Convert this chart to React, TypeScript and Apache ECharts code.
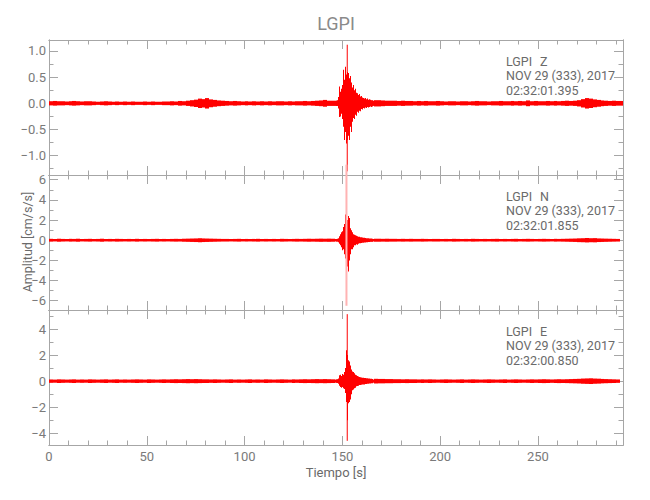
import React, { useEffect, useRef } from "react";
import * as echarts from "echarts";

// ---------- axis ticks ----------
const X_MAX = 293.5;
const X_MAJOR = [0, 50, 100, 150, 200, 250];
const X_MINOR = [10, 20, 30, 40, 60, 70, 80, 90, 110, 120, 130, 140, 160, 170, 180, 190, 210, 220, 230, 240, 260, 270, 280, 290];

const Z_RANGE = [-1.37, 1.21];
const Z_MAJOR = [-1.0, -0.5, 0.0, 0.5, 1.0];
const Z_MINOR = [-1.25, -0.75, -0.25, 0.25, 0.75];
const N_RANGE = [-6.92, 6.47];
const N_MAJOR = [-6, -4, -2, 0, 2, 4, 6];
const N_MINOR = [-5, -3, -1, 1, 3, 5];
const E_RANGE = [-4.9, 5.46];
const E_MAJOR = [-4, -2, 0, 2, 4];
const E_MINOR = [-3, -1, 1, 3, 5];

// ---------- texts ----------
const TITLE = "LGPI";
const STATION = "LGPI";
const COMPONENTS = ["Z", "N", "E"];
const DATE_TEXT = "NOV 29 (333), 2017";
const START_TIMES = ["02:32:01.395", "02:32:01.855", "02:32:00.850"];
const Y_NAME = "Amplitud [cm/s/s]";
const X_NAME = "Tiempo [s]";

// ---------- waveform envelopes ----------
// half-amplitude of the trace in consecutive 2-s bins (starting at 0 s)
const BIN = 2;
const zCoarse = [
  0.04, 0.045, 0.04, 0.04, 0.035, 0.04, 0.045, 0.04, 0.035, 0.04, 0.04, 0.035, 0.03, 0.035, 0.04, 0.035, 0.03, 0.035, 0.03, 0.035,
  0.03, 0.035, 0.03, 0.03, 0.035, 0.03, 0.035, 0.03, 0.03, 0.035,
  0.035, 0.04, 0.035, 0.045, 0.04, 0.05,
  0.06, 0.07, 0.09, 0.08, 0.1, 0.075, 0.065, 0.055, 0.05,
  0.045, 0.04, 0.045, 0.04, 0.035, 0.04, 0.035, 0.04, 0.035, 0.04,
  0.035, 0.04, 0.035, 0.04, 0.04, 0.035, 0.04, 0.035, 0.04, 0.04, 0.045, 0.04, 0.045,
  0.05, 0.055, 0.065, 0.05, 0.05,
  0.05, 0.05, 0.05, 0.05, 0.05, 0.05, 0.05, 0.05, 0.05, 0.05,
  0.06, 0.06, 0.055, 0.05, 0.05, 0.05, 0.045, 0.05, 0.045, 0.045, 0.04, 0.045, 0.04, 0.045, 0.04, 0.04, 0.045,
  0.04, 0.035, 0.04, 0.04, 0.035, 0.04, 0.04, 0.035, 0.04, 0.045, 0.04, 0.04, 0.035, 0.04, 0.04, 0.045, 0.04, 0.04, 0.045, 0.04, 0.045, 0.04,
  0.055,
  0.04, 0.045, 0.04, 0.04, 0.045, 0.04, 0.045, 0.04, 0.045, 0.05, 0.045,
  0.05, 0.06, 0.08, 0.1, 0.09, 0.075, 0.065, 0.055,
  0.05, 0.045, 0.05, 0.045, 0.045,
];
const nCoarse = [
  0.14, 0.12, 0.15, 0.13, 0.12, 0.14, 0.13, 0.15, 0.12, 0.13, 0.14, 0.12, 0.13, 0.15, 0.12, 0.13, 0.12, 0.14, 0.13, 0.12,
  0.13, 0.12, 0.14, 0.12, 0.13, 0.12, 0.13, 0.14, 0.12, 0.13, 0.12, 0.13, 0.14, 0.13, 0.15, 0.16,
  0.17, 0.18, 0.2, 0.18, 0.17, 0.16, 0.15, 0.14, 0.13,
  0.13, 0.12, 0.13, 0.14, 0.12, 0.13, 0.12, 0.13, 0.14, 0.12, 0.13, 0.12, 0.13, 0.12, 0.14, 0.13, 0.12, 0.13, 0.14, 0.13,
  0.14, 0.15, 0.14, 0.15, 0.16, 0.15, 0.16, 0.15,
  0.12, 0.12, 0.12, 0.12, 0.12, 0.12, 0.12, 0.12, 0.12, 0.12,
  0.15, 0.15, 0.14, 0.15, 0.14, 0.14, 0.13, 0.14, 0.13, 0.14, 0.13, 0.13, 0.14, 0.13, 0.12, 0.13, 0.13,
  0.12, 0.13, 0.12, 0.14, 0.13, 0.12, 0.13, 0.12, 0.14, 0.13, 0.12, 0.13, 0.12, 0.13, 0.14, 0.12, 0.13, 0.12, 0.13, 0.14,
  0.12, 0.13, 0.14, 0.13, 0.12, 0.13, 0.14, 0.13, 0.12, 0.14, 0.13, 0.14, 0.15,
  0.16, 0.17, 0.19, 0.2, 0.22, 0.2, 0.21, 0.18, 0.17, 0.16, 0.15, 0.14, 0.13,
];
const eCoarse = [
  0.13, 0.12, 0.14, 0.13, 0.12, 0.13, 0.14, 0.12, 0.13, 0.12, 0.14, 0.13, 0.12, 0.13, 0.14, 0.12, 0.13, 0.14, 0.12, 0.13,
  0.12, 0.13, 0.14, 0.13, 0.12, 0.14, 0.13, 0.12, 0.13, 0.14, 0.13, 0.14, 0.15, 0.14, 0.15, 0.16, 0.15, 0.16, 0.15, 0.14,
  0.14, 0.13, 0.14, 0.13, 0.12, 0.13, 0.14, 0.12, 0.13, 0.12, 0.13, 0.14, 0.12, 0.13, 0.12, 0.14, 0.13, 0.12, 0.13, 0.14,
  0.13, 0.12, 0.14, 0.13, 0.14, 0.15, 0.14, 0.15, 0.16, 0.15, 0.16, 0.15, 0.14,
  0.12, 0.12, 0.12, 0.12, 0.12, 0.12, 0.12, 0.12, 0.12, 0.12,
  0.18, 0.17, 0.17, 0.16, 0.16, 0.15, 0.15, 0.14, 0.15, 0.14, 0.14, 0.13, 0.14, 0.13, 0.14, 0.13, 0.12, 0.13, 0.14, 0.13,
  0.12, 0.13, 0.14, 0.12, 0.13, 0.14, 0.13, 0.12, 0.13, 0.14, 0.13, 0.12, 0.13, 0.14, 0.12, 0.13, 0.14, 0.13, 0.12, 0.13,
  0.14, 0.13, 0.14, 0.15, 0.14, 0.13, 0.14, 0.15, 0.14, 0.15,
  0.16, 0.17, 0.18, 0.2, 0.21, 0.22, 0.2, 0.19, 0.17, 0.16, 0.15, 0.14, 0.13,
];

// max / min of the trace in 0.5-s steps from 147 s to 165 s (main event)
const FINE_START = 147;
const FINE_STEP = 0.5;
const zFineMax = [0.05, 0.06, 0.12, 0.32, 0.22, 0.28, 0.35, 0.64, 0.45, 0.7, 0.55, 0.6, 0.58, 0.48, 0.52, 0.4, 0.3, 0.35, 0.25, 0.28, 0.2, 0.19, 0.16, 0.18, 0.13, 0.14, 0.11, 0.1, 0.09, 0.1, 0.08, 0.09, 0.07, 0.08, 0.07, 0.06, 0.06];
const zFineMin = [-0.05, -0.05, -0.1, -0.26, -0.25, -0.2, -0.3, -0.45, -0.7, -0.55, -0.77, -0.7, -0.62, -0.7, -0.45, -0.55, -0.35, -0.28, -0.3, -0.22, -0.24, -0.16, -0.18, -0.14, -0.15, -0.11, -0.12, -0.09, -0.1, -0.08, -0.09, -0.07, -0.08, -0.07, -0.06, -0.07, -0.06];
const nFineMax = [0.12, 0.15, 0.2, 0.4, 0.6, 0.8, 0.9, 1.3, 1.6, 2.55, 1.8, 2.0, 2.4, 2.2, 1.2, 1.0, 0.8, 0.6, 0.55, 0.5, 0.45, 0.4, 0.35, 0.35, 0.3, 0.3, 0.28, 0.25, 0.25, 0.22, 0.2, 0.2, 0.2, 0.18, 0.18, 0.16, 0.15];
const nFineMin = [-0.12, -0.13, -0.2, -0.35, -0.5, -0.7, -1.0, -0.9, -1.4, -1.8, -2.2, -2.6, -3.1, -2.0, -1.4, -0.9, -0.9, -0.7, -0.5, -0.5, -0.4, -0.45, -0.35, -0.3, -0.3, -0.28, -0.25, -0.25, -0.22, -0.22, -0.2, -0.2, -0.18, -0.18, -0.16, -0.16, -0.15];
const eFineMax = [0.12, 0.15, 0.2, 0.45, 0.5, 0.4, 0.55, 0.5, 0.7, 1.0, 2.38, 2.0, 1.6, 1.5, 1.2, 0.9, 0.75, 0.7, 0.6, 0.5, 0.45, 0.4, 0.35, 0.32, 0.3, 0.28, 0.27, 0.26, 0.25, 0.24, 0.23, 0.22, 0.2, 0.2, 0.18, 0.18, 0.17];
const eFineMin = [-0.12, -0.15, -0.2, -0.35, -0.45, -0.5, -0.45, -0.55, -0.6, -0.9, -1.6, -3.0, -1.7, -1.6, -1.4, -1.0, -0.7, -0.65, -0.55, -0.5, -0.4, -0.38, -0.35, -0.3, -0.3, -0.28, -0.26, -0.25, -0.25, -0.22, -0.22, -0.2, -0.2, -0.18, -0.18, -0.17, -0.16];

// single-sample peaks: [time, min, max]
const zSpike = [152.5, -1.3, 1.12];
const nSpike = [152.1, -6.5, 7.5];
const eSpike = [152.5, -4.58, 5.14];

// ---------- styling ----------
const FONT = 'Roboto, "DejaVu Sans", sans-serif';
const AXIS_COLOR = "#a6a6a6";
const LABEL_COLOR = "#7a7a7a";
const TEXT_COLOR = "#6a6a6a";
const TRACE = "#ff0000";
const GRID_LEFT = 49;
const GRID_RIGHT = 27;
const PANEL_TOPS = [40, 175, 310];
const PANEL_H = 135;

const fmtMinus = (s: string) => s.replace("-", "\u2212");

function makeXAxes(gridIndex: number, showLabels: boolean) {
  const base = {
    type: "value",
    gridIndex,
    min: 0,
    max: X_MAX,
    splitLine: { show: false },
    axisLine: { show: true, onZero: false, lineStyle: { color: AXIS_COLOR, width: 1 } },
  };
  const mk = (position: string, major: boolean, labels: boolean) => ({
    ...base,
    position,
    axisTick: {
      show: true,
      inside: true,
      length: major ? 9 : 4.5,
      customValues: major ? X_MAJOR : X_MINOR,
      lineStyle: { color: AXIS_COLOR, width: 1 },
    },
    axisLabel: labels
      ? { show: true, customValues: X_MAJOR, color: LABEL_COLOR, fontSize: 13, fontFamily: FONT, margin: 5, formatter: (v: number) => String(v) }
      : { show: false },
  });
  return [mk("bottom", true, showLabels), mk("bottom", false, false), mk("top", true, false), mk("top", false, false)];
}

function makeYAxes(gridIndex: number, range: number[], major: number[], minor: number[], decimals: number) {
  const base = {
    type: "value",
    gridIndex,
    min: range[0],
    max: range[1],
    splitLine: { show: false },
    axisLine: { show: true, onZero: false, lineStyle: { color: AXIS_COLOR, width: 1 } },
  };
  const mk = (position: string, isMajor: boolean, labels: boolean) => ({
    ...base,
    position,
    axisTick: {
      show: true,
      inside: true,
      length: isMajor ? 9 : 4.5,
      customValues: isMajor ? major : minor,
      lineStyle: { color: AXIS_COLOR, width: 1 },
    },
    axisLabel: labels
      ? {
          show: true,
          customValues: major,
          color: LABEL_COLOR,
          fontSize: 13,
          fontFamily: FONT,
          margin: 3,
          formatter: (v: number) => fmtMinus((Math.abs(v) < 1e-9 ? 0 : v).toFixed(decimals)),
        }
      : { show: false },
  });
  return [mk("left", true, true), mk("left", false, false), mk("right", true, false), mk("right", false, false)];
}

function bandItem(params: any, api: any) {
  const t0 = api.value(0);
  const t1 = api.value(1);
  const lo = api.value(2);
  const hi = api.value(3);
  const p0 = api.coord([t0, hi]);
  const p1 = api.coord([t1, lo]);
  const x0 = Math.round(p0[0]);
  const x1 = Math.round(p1[0]);
  return {
    type: "rect",
    shape: { x: x0, y: p0[1], width: Math.max(x1 - x0, 1), height: Math.max(p1[1] - p0[1], 1.5) },
    style: { fill: TRACE },
  };
}

function makeSpikeRenderer(color: string, width: number) {
  return (params: any, api: any) => {
    const t = api.value(0);
    const a = api.coord([t, api.value(1)]);
    const b = api.coord([t, api.value(2)]);
    return {
      type: "line",
      shape: { x1: a[0], y1: a[1], x2: b[0], y2: b[1] },
      style: { stroke: color, lineWidth: width },
    };
  };
}

function panelSeries(idx: number, coarse: number[], fineMax: number[], fineMin: number[], spike: number[], spikeColor: string, spikeWidth: number, spikeClip: boolean) {
  const axisIdx = idx * 4;
  const coarseData = coarse.map((a, i) => [i * BIN, (i + 1) * BIN, -a, a]);
  const fineData = fineMax.map((mx, i) => [FINE_START + i * FINE_STEP, FINE_START + (i + 1) * FINE_STEP, fineMin[i], mx]);
  return [
    {
      type: "custom",
      xAxisIndex: axisIdx,
      yAxisIndex: axisIdx,
      clip: true,
      silent: true,
      renderItem: bandItem,
      encode: { x: [0, 1], y: [2, 3] },
      data: coarseData,
    },
    {
      type: "custom",
      xAxisIndex: axisIdx,
      yAxisIndex: axisIdx,
      clip: true,
      silent: true,
      renderItem: bandItem,
      encode: { x: [0, 1], y: [2, 3] },
      data: fineData,
    },
    {
      type: "custom",
      xAxisIndex: axisIdx,
      yAxisIndex: axisIdx,
      clip: spikeClip,
      silent: true,
      renderItem: makeSpikeRenderer(spikeColor, spikeWidth),
      encode: { x: 0, y: [1, 2] },
      data: [spike],
    },
  ];
}

export default function App() {
  const ref = useRef<HTMLDivElement>(null);

  useEffect(() => {
    if (!ref.current) return;
    const chart = echarts.init(ref.current, null, { renderer: "svg" });

    const grids = PANEL_TOPS.map((top) => ({ left: GRID_LEFT, right: GRID_RIGHT, top, height: PANEL_H }));
    const xAxis = [...makeXAxes(0, false), ...makeXAxes(1, false), ...makeXAxes(2, true)];
    const yAxis = [
      ...makeYAxes(0, Z_RANGE, Z_MAJOR, Z_MINOR, 1),
      ...makeYAxes(1, N_RANGE, N_MAJOR, N_MINOR, 0),
      ...makeYAxes(2, E_RANGE, E_MAJOR, E_MINOR, 0),
    ];
    const series = [
      ...panelSeries(0, zCoarse, zFineMax, zFineMin, zSpike, TRACE, 1, true),
      ...panelSeries(1, nCoarse, nFineMax, nFineMin, nSpike, "#ffb3b3", 2, false),
      ...panelSeries(2, eCoarse, eFineMax, eFineMin, eSpike, TRACE, 1, true),
    ];

    const annot: any[] = [];
    PANEL_TOPS.forEach((top, i) => {
      const txt = (x: number, y: number, text: string) => ({
        type: "text",
        x,
        y,
        style: { text, fill: TEXT_COLOR, fontSize: 12.5, fontFamily: FONT, verticalAlign: "middle" },
        silent: true,
        z: 10,
      });
      annot.push(txt(506, top + 21.5, STATION));
      annot.push(txt(540, top + 21.5, COMPONENTS[i]));
      annot.push(txt(506, top + 35.5, DATE_TEXT));
      annot.push(txt(506, top + 50, START_TIMES[i]));
    });

    const option: any = {
      animation: false,
      backgroundColor: "#ffffff",
      grid: grids,
      xAxis,
      yAxis,
      series,
      graphic: [
        {
          type: "text",
          x: 336,
          y: 23,
          style: { text: TITLE, fill: "#8a8a8a", fontSize: 18, fontFamily: FONT, align: "center", verticalAlign: "middle" },
          silent: true,
        },
        {
          type: "text",
          x: 27,
          y: 242,
          rotation: Math.PI / 2,
          style: { text: Y_NAME, fill: TEXT_COLOR, fontSize: 12.5, fontFamily: FONT, align: "center", verticalAlign: "middle" },
          silent: true,
        },
        {
          type: "text",
          x: 336,
          y: 472,
          style: { text: X_NAME, fill: TEXT_COLOR, fontSize: 13, fontFamily: FONT, align: "center", verticalAlign: "middle" },
          silent: true,
        },
        ...annot,
      ],
    };
    chart.setOption(option);
    return () => chart.dispose();
  }, []);

  return <div ref={ref} style={{ width: 650, height: 500, position: "absolute", left: 0, top: 0 }} />;
}
